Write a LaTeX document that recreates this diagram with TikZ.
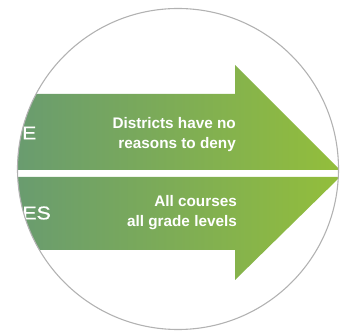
\documentclass[tikz,border=0pt]{standalone}
\usepackage{fontspec}
\setmainfont{Liberation Sans}
\newfontfamily\widefont[FakeStretch=1.15,FakeBold=0.8]{Liberation Sans}
\begin{document}
\begin{tikzpicture}[x=1pt,y=-1pt,
  arrowfill/.style={left color=leftgreen,right color=rightgreen,draw=none},
  boldtxt/.style={text=white,font=\fontsize{15.3}{20}\selectfont\bfseries,align=right,anchor=east,inner sep=0pt},
  sidetxt/.style={text=white,font=\widefont\fontsize{18.5}{20}\selectfont,anchor=east,inner sep=0pt}]
\definecolor{leftgreen}{HTML}{679A72}
\definecolor{rightgreen}{HTML}{93BE3B}
\definecolor{ringgray}{HTML}{B2B2B2}
\useasboundingbox (0,0) rectangle (349,331);
\begin{scope}
  \clip (178,169) circle (160.5);
  \path[arrowfill] (0,94) -- (235,94) -- (235,65) -- (340,170) -- (0,170) -- cycle;
  \path[arrowfill] (0,177) -- (340,177) -- (235,280) -- (235,250) -- (0,250) -- cycle;
  \node[sidetxt] (e1) at (36.5,133) {E};
  \node[sidetxt] (e2) at (51,213) {ES};
\end{scope}
\draw[ringgray,line width=1.1] (178,169) circle (160.5);
\node[boldtxt] (t1) at (236,135) {Districts have no\\reasons to deny};
\node[boldtxt] (t2) at (237,213) {All courses\\all grade levels};
\end{tikzpicture}
\end{document}
